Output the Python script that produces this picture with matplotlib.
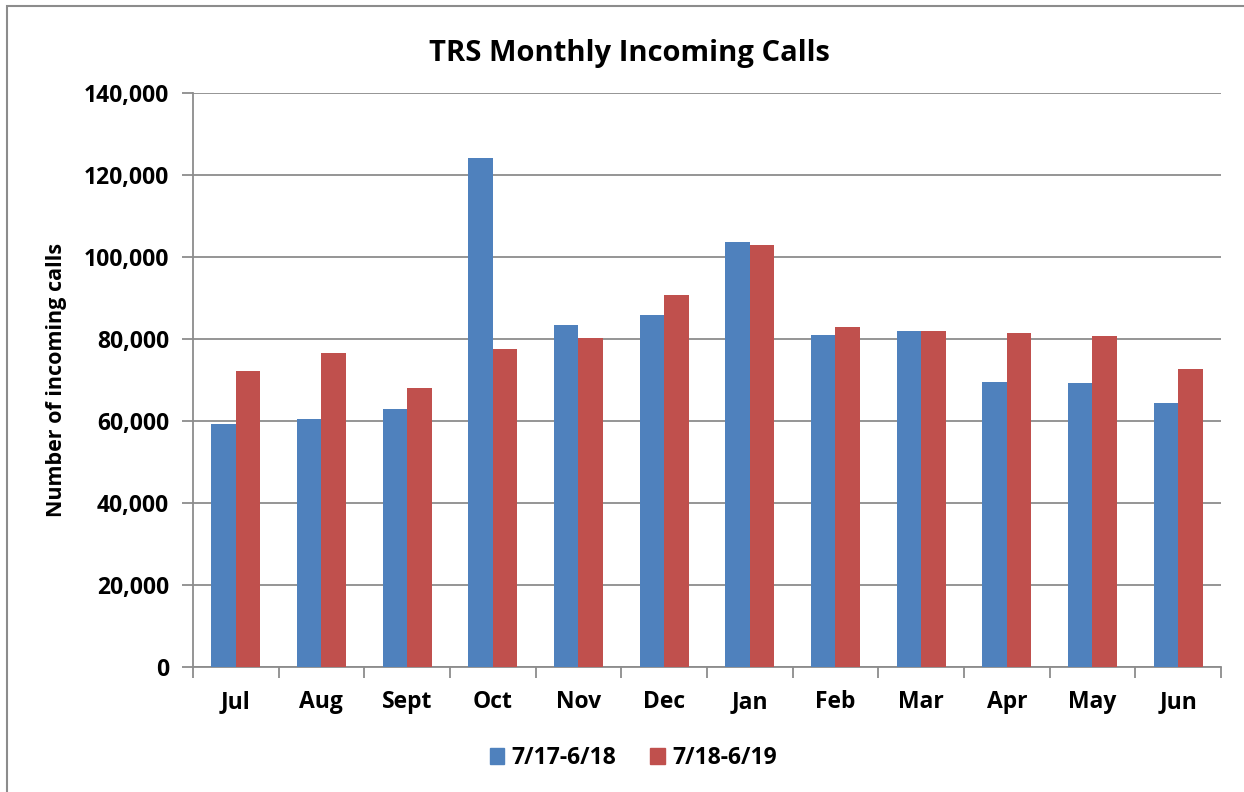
import numpy as np
import matplotlib.pyplot as plt
from matplotlib.patches import Rectangle, Patch
from matplotlib.ticker import FuncFormatter

plt.rcParams['font.family'] = ['Open Sans', 'DejaVu Sans']
plt.rcParams['font.weight'] = 'bold'

months = ['Jul', 'Aug', 'Sept', 'Oct', 'Nov', 'Dec', 'Jan', 'Feb', 'Mar', 'Apr', 'May', 'Jun']
calls_1718 = [59200, 60500, 62900, 124100, 83400, 85900, 103600, 81000, 81900, 69500, 69200, 64400]
calls_1819 = [72200, 76600, 68000, 77600, 80200, 90600, 102800, 82800, 82000, 81400, 80700, 72700]
series_names = ['7/17-6/18', '7/18-6/19']
colors = ['#4F81BD', '#C0504D']

fig = plt.figure(figsize=(12.44, 7.92), dpi=100)
ax = fig.add_axes([0.155, 0.158, 0.8265, 0.7246])

x = np.arange(len(months))
w = 0.2857
ax.bar(x - w / 2, calls_1718, w, color=colors[0], zorder=3)
ax.bar(x + w / 2, calls_1819, w, color=colors[1], zorder=3)

ax.set_xlim(-0.5, len(months) - 0.5)
ax.set_ylim(0, 140000)
ax.set_yticks(np.arange(0, 140001, 20000))
ax.yaxis.set_major_formatter(FuncFormatter(lambda v, p: f'{int(v):,}'))
ax.grid(axis='y', color='#8c8c8c', linewidth=1.3, zorder=0)

ax.set_xticks(x)
ax.set_xticklabels(months)
ax.set_xticks(np.arange(-0.5, len(months)), minor=True)
ax.tick_params(axis='x', which='major', length=0, pad=17, labelsize=16.5)
ax.tick_params(axis='x', which='minor', length=8, width=1.3, color='#8c8c8c')
ax.tick_params(axis='y', length=8, width=1.3, color='#8c8c8c', labelsize=16.5, pad=9)

for s in ['top', 'right']:
    ax.spines[s].set_visible(False)
for s in ['left', 'bottom']:
    ax.spines[s].set_color('#8c8c8c')
    ax.spines[s].set_linewidth(1.3)

ax.set_ylabel('Number of incoming calls', fontsize=15.5, fontweight='bold', labelpad=12)
fig.text(0.506, 0.932, 'TRS Monthly Incoming Calls', ha='center', va='center',
         fontsize=21, fontweight='bold')

handles = [Patch(color=c) for c in colors]
fig.legend(handles, series_names, loc='center', bbox_to_anchor=(0.509, 0.043), ncol=2,
           frameon=False, fontsize=16.5, handlelength=0.65, handleheight=0.65,
           handletextpad=0.3, columnspacing=1.5)

fig.patches.append(Rectangle((7 / 1244, -0.01), 1.5, 1 - 6 / 792 + 0.01, transform=fig.transFigure,
                             fill=False, edgecolor='#8c8c8c', linewidth=1.5))

fig.savefig('out.png', dpi=100)
